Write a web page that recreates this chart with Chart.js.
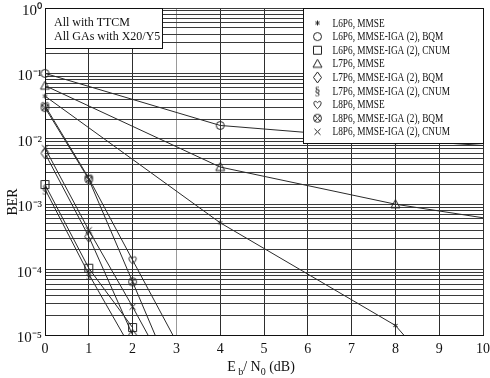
<!DOCTYPE html>
<html>
<head>
<meta charset="utf-8">
<script src="https://cdn.jsdelivr.net/npm/chart.js@4/dist/chart.umd.min.js"></script>
<style>
html,body{margin:0;padding:0;background:#fff;}
#wrap{width:490px;height:378px;}
</style>
</head>
<body>
<div id="wrap"><canvas id="c" width="490" height="378"></canvas></div>
<script>
// ---- data ----
const seriesNames = [
  'L6P6, MMSE',
  'L6P6, MMSE-IGA (2), BQM',
  'L6P6, MMSE-IGA (2), CNUM',
  'L7P6, MMSE',
  'L7P6, MMSE-IGA (2), BQM',
  'L7P6, MMSE-IGA (2), CNUM',
  'L8P6, MMSE',
  'L8P6, MMSE-IGA (2), BQM',
  'L8P6, MMSE-IGA (2), CNUM'
];
const markerKinds = ['star','circle','square','triangle','diamond','section','heart','otimes','cross'];

const l6p6MmseX = [0, 4, 8, 9];
const l6p6MmseY = [0.045, 5.2e-4, 1.4e-5, 2.4e-6];
const l6p6BqmX = [0, 4, 8, 10];
const l6p6BqmY = [0.1, 0.016, 0.0097, 0.0079];
const l6p6CnumX = [0, 1, 2];
const l6p6CnumY = [0.002, 1.05e-4, 1.3e-5];
const l7p6MmseX = [0, 4, 8, 10];
const l7p6MmseY = [0.065, 3.7e-3, 1.0e-3, 6.2e-4];
const l7p6BqmX = [0, 1, 2];
const l7p6BqmY = [0.006, 3.2e-4, 1.0e-5];
const l7p6CnumX = [0, 1, 2];
const l7p6CnumY = [0.0017, 8.5e-5, 5.7e-6];
const l8p6MmseX = [0, 1, 2, 3];
const l8p6MmseY = [0.032, 0.0025, 1.4e-4, 7.9e-6];
const l8p6BqmX = [0, 1, 2, 3];
const l8p6BqmY = [0.030, 0.0024, 6.5e-5, 1.7e-6];
const l8p6CnumX = [0, 1, 2, 3];
const l8p6CnumY = [0.0072, 4.0e-4, 2.7e-5, 1.6e-6];

const seriesX = [l6p6MmseX,l6p6BqmX,l6p6CnumX,l7p6MmseX,l7p6BqmX,l7p6CnumX,l8p6MmseX,l8p6BqmX,l8p6CnumX];
const seriesY = [l6p6MmseY,l6p6BqmY,l6p6CnumY,l7p6MmseY,l7p6BqmY,l7p6CnumY,l8p6MmseY,l8p6BqmY,l8p6CnumY];
// which points carry a visible marker (1 = marker shown)
const markerShown = [
  [1,1,1,0],[1,1,1,0],[1,1,1],[1,1,1,0],[1,1,1],[1,1,0],[1,1,1,0],[1,1,1,0],[1,1,1,0]
];

const xTickValues = [0,1,2,3,4,5,6,7,8,9,10];
const yDecades = [1e-5, 1e-4, 1e-3, 1e-2, 1e-1, 1];
const yTickLabels = ['10\u207B\u2075','10\u207B\u2074','10\u207B\u00B3','10\u207B\u00B2','10\u207B\u00B9','10\u2070'];
const noteLines = ['All with TTCM', 'All GAs with X20/Y5'];

// ---- markers ----
const INK = '#222';
function makeMarker(kind){
  const s = 13, c = s/2;
  const cv = document.createElement('canvas');
  cv.width = s; cv.height = s;
  const g = cv.getContext('2d');
  g.strokeStyle = INK; g.fillStyle = INK; g.lineWidth = 1;
  g.beginPath();
  switch(kind){
    case 'star':
      for (let i=0;i<3;i++){
        const a = Math.PI/2 + i*Math.PI/3;
        g.moveTo(c+2.5*Math.cos(a), c+2.5*Math.sin(a));
        g.lineTo(c-2.5*Math.cos(a), c-2.5*Math.sin(a));
      }
      g.stroke(); break;
    case 'circle':
      g.arc(c,c,4,0,Math.PI*2); g.stroke(); break;
    case 'square':
      g.rect(c-4,c-4,8,8); g.stroke(); break;
    case 'triangle':
      g.moveTo(c,c-4.5); g.lineTo(c+4.5,c+3.5); g.lineTo(c-4.5,c+3.5); g.closePath(); g.stroke(); break;
    case 'diamond':
      g.moveTo(c,c-5.5); g.lineTo(c+4,c); g.lineTo(c,c+5.5); g.lineTo(c-4,c); g.closePath(); g.stroke(); break;
    case 'section':
      g.font = '12px "Liberation Serif"'; g.textAlign='center'; g.textBaseline='middle';
      g.fillText('\u00A7', c, c+1); break;
    case 'heart':
      g.moveTo(c, c+4);
      g.bezierCurveTo(c-6, c-1, c-3.5, c-5.5, c, c-2);
      g.bezierCurveTo(c+3.5, c-5.5, c+6, c-1, c, c+4);
      g.stroke(); break;
    case 'otimes':
      g.arc(c,c,4,0,Math.PI*2); g.stroke();
      g.beginPath();
      g.moveTo(c-2.8,c-2.8); g.lineTo(c+2.8,c+2.8);
      g.moveTo(c+2.8,c-2.8); g.lineTo(c-2.8,c+2.8);
      g.stroke(); break;
    case 'cross':
      g.moveTo(c-3,c-3); g.lineTo(c+3,c+3);
      g.moveTo(c+3,c-3); g.lineTo(c-3,c+3);
      g.stroke(); break;
  }
  return cv;
}
const markerImgs = markerKinds.map(makeMarker);

const datasets = seriesNames.map((name, i) => ({
  label: name,
  data: seriesX[i].map((x, j) => ({x: x, y: seriesY[i][j]})),
  borderColor: '#2a2a2a',
  borderWidth: 1,
  pointStyle: markerImgs[i],
  pointRadius: markerShown[i].map(v => v ? 4 : 0),
  pointHoverRadius: 0,
  fill: false,
  tension: 0,
  clip: {left: 10, top: 0, right: 0, bottom: 0}
}));

const SERIF = '"Liberation Serif", "Times New Roman", serif';

const decorPlugin = {
  id: 'decor',
  afterDatasetsDraw(chart){
    const ctx = chart.ctx, a = chart.chartArea;
    ctx.save();
    // note box
    ctx.fillStyle = '#fff'; ctx.strokeStyle = '#111'; ctx.lineWidth = 1;
    const nb = {x: Math.round(a.left)+0.5, y: Math.round(a.top)+0.5, w: 117, h: 40};
    ctx.fillRect(nb.x, nb.y, nb.w, nb.h); ctx.strokeRect(nb.x, nb.y, nb.w, nb.h);
    ctx.fillStyle = '#111'; ctx.font = '12px ' + SERIF; ctx.textBaseline = 'middle'; ctx.textAlign = 'left';
    noteLines.forEach((t, k) => ctx.fillText(t, a.left + 9, a.top + 15 + k*14));
    // legend box
    const lw = 180, lh = 135;
    const lx = Math.round(a.right - lw) + 0.5, ly = Math.round(a.top) + 0.5;
    ctx.fillStyle = '#fff';
    ctx.fillRect(lx, ly, lw, lh); ctx.strokeRect(lx, ly, lw, lh);
    ctx.fillStyle = '#111';
    ctx.font = '12px ' + SERIF;
    seriesNames.forEach((t, k) => {
      const yy = a.top + 15 + k*13.6;
      const img = markerImgs[k];
      ctx.drawImage(img, lx + 14 - img.width/2, yy - img.height/2);
      ctx.save();
      ctx.translate(lx + 29, yy + 0.5);
      ctx.scale(0.775, 1);
      ctx.fillText(t, 0, 0);
      ctx.restore();
    });
    ctx.restore();
  },
  afterDraw(chart){
    const ctx = chart.ctx;
    ctx.save();
    ctx.fillStyle = '#111';
    // y title
    ctx.font = '14px ' + SERIF;
    ctx.translate(13, 202); ctx.rotate(-Math.PI/2);
    ctx.textAlign = 'center'; ctx.textBaseline = 'middle';
    ctx.fillText('BER', 0, 0);
    ctx.restore();
    // x title with subscripts
    ctx.save();
    ctx.fillStyle = '#111'; ctx.textBaseline = 'alphabetic'; ctx.textAlign = 'left';
    const big = '14px ' + SERIF, small = '10px ' + SERIF;
    const parts = [['E', big, 0], [' b', small, 4], ['/ N', big, 0], ['0', small, 4], [' (dB)', big, 0]];
    let total = 0;
    parts.forEach(p => { ctx.font = p[1]; total += ctx.measureText(p[0]).width; });
    let x = 261 - total/2; const base = 371;
    parts.forEach(p => { ctx.font = p[1]; ctx.fillText(p[0], x, base + p[2]); x += ctx.measureText(p[0]).width; });
    ctx.restore();
  }
};

new Chart(document.getElementById('c'), {
  type: 'line',
  data: {datasets},
  options: {
    responsive: false,
    animation: false,
    events: [],
    layout: {padding: {top: 8, right: 0, left: 0, bottom: 0}},
    plugins: {legend: {display: false}, tooltip: {enabled: false}, title: {display: false}},
    scales: {
      x: {
        type: 'linear', min: 0, max: 10,
        afterBuildTicks: s => { s.ticks = xTickValues.map(v => ({value: v})); },
        afterFit: s => { s.height = 43; s.paddingRight = 7; s.paddingLeft = 0; },
        ticks: {color: '#111', font: {family: SERIF, size: 14}, padding: 6, autoSkip: false, maxRotation: 0},
        grid: {color: ctx => (ctx.tick && ctx.tick.value === 3) ? '#9a9a9a' : '#2e2e2e', lineWidth: 1, drawTicks: false},
        border: {display: true, color: '#111', width: 1}
      },
      y: {
        type: 'logarithmic', min: 1e-5, max: 1,
        afterBuildTicks: s => {
          const t = [];
          for (let e = -5; e <= 0; e++) {
            for (let m = 1; m <= 9; m++) {
              const v = m * Math.pow(10, e);
              if (v <= 1.0000001) t.push({value: v});
            }
          }
          s.ticks = t;
        },
        afterFit: s => { s.width = 45; s.paddingTop = 0; s.paddingBottom = 0; },
        ticks: {
          color: '#111', font: {family: SERIF, size: 15}, padding: 3, autoSkip: false, labelOffset: 3,
          callback: (v) => {
            const idx = yDecades.findIndex(d => Math.abs(Math.log10(v) - Math.log10(d)) < 1e-6);
            return idx >= 0 ? yTickLabels[idx] : '';
          }
        },
        grid: {color: '#3a3a3a', lineWidth: 1, drawTicks: false},
        border: {display: true, color: '#111', width: 1}
      }
    }
  },
  plugins: [decorPlugin]
});
</script>
</body>
</html>
